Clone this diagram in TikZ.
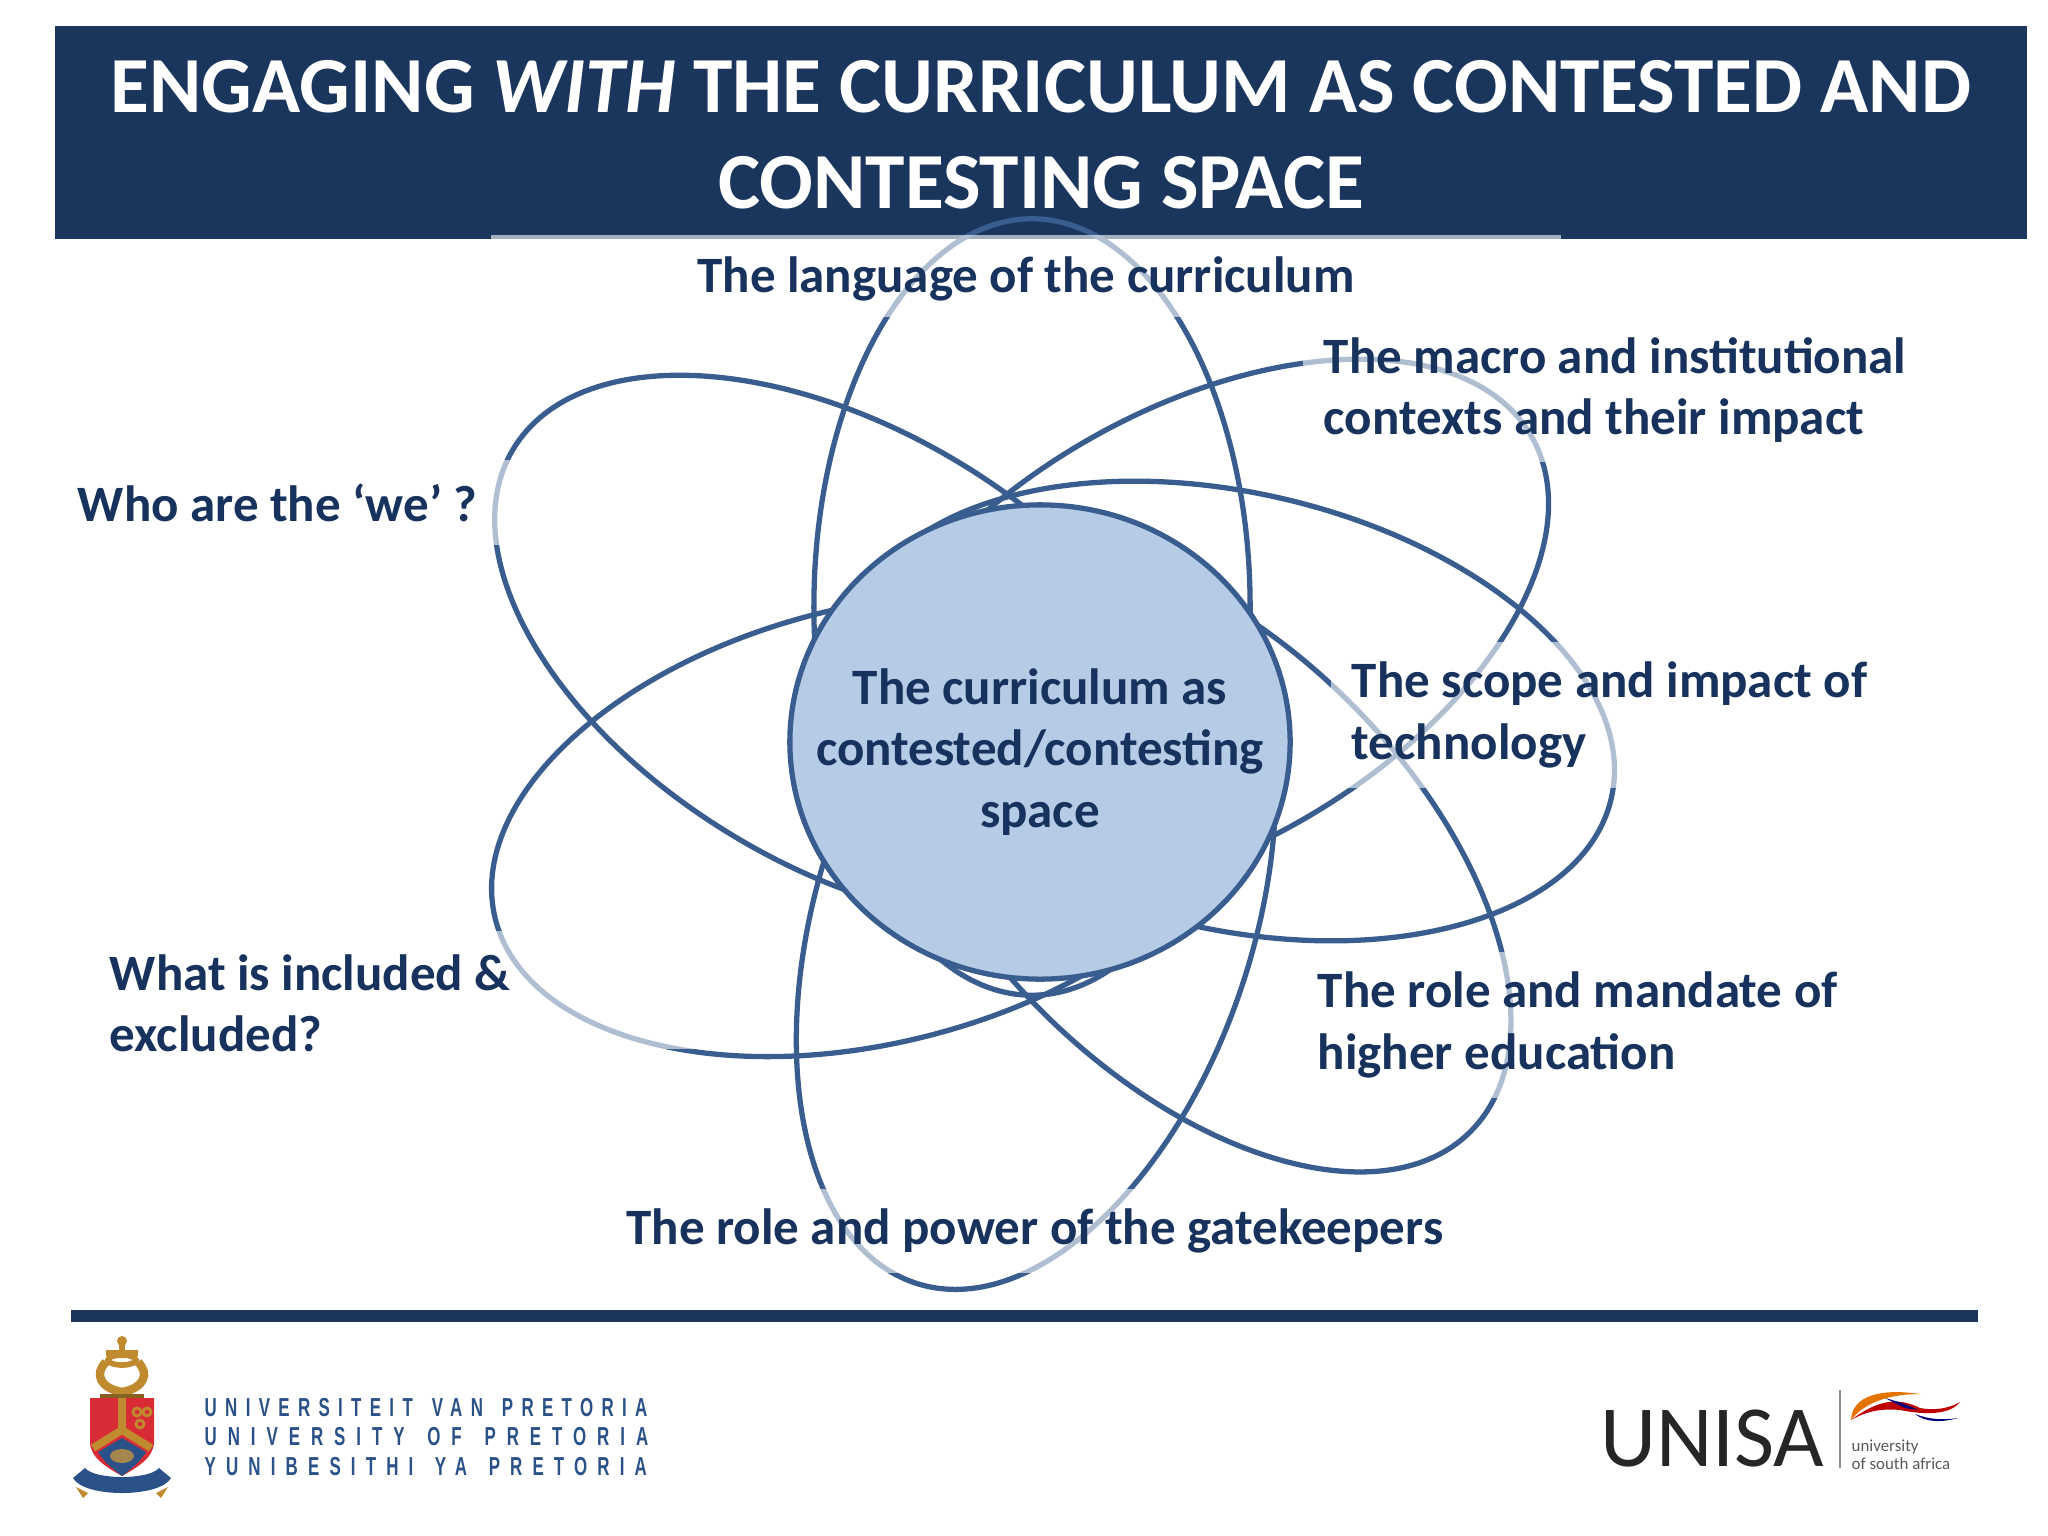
\documentclass[tikz,border=0pt]{standalone}
\usepackage{fontspec}
\setmainfont{Carlito}
\newfontfamily\upfont[FakeStretch=0.65,LetterSpace=32,WordSpace=1.46]{Liberation Sans}
\usetikzlibrary{shapes.geometric,positioning}

\definecolor{navy}{HTML}{1A365D}
\definecolor{inknavy}{HTML}{17325C}
\definecolor{petalblue}{HTML}{3A5D8F}
\definecolor{hubblue}{HTML}{B5CBE6}
\definecolor{upblue}{HTML}{2B5288}
\definecolor{upred}{HTML}{D92B35}
\definecolor{upgold}{HTML}{C08A2E}

\tikzset{
  petal/.style={draw=petalblue, line width=1.5pt, ellipse, inner sep=0pt, minimum width=7.76cm, minimum height=4.36cm},
  patch/.style={fill=white, fill opacity=0.6, text opacity=1, text=inknavy, inner sep=0pt, align=flush left,
    font=\fontsize{14.5}{17.45}\selectfont\bfseries},
  uptext/.style={text=upblue, inner sep=0pt, anchor=west, font=\upfont\fontsize{7.4}{8}\selectfont\bfseries}
}

\begin{document}
\begin{tikzpicture}[x=0.01cm, y=-0.01cm]
\useasboundingbox (0,0) rectangle (2048,1536);

% title band
\node[fill=navy, inner sep=0pt, minimum width=19.7cm, minimum height=2.13cm] (band) at (1041,132.5) {};
\node[text=white, inner sep=0pt, align=center, font=\fontsize{22.6}{27.2}\selectfont\bfseries] (title) at (1041,135)
  {ENGAGING \textit{WITH} THE CURRICULUM AS CONTESTED AND\\CONTESTING SPACE};

% the petals
\node[petal] (lang) at (1032,607) [rotate=90] {};
\node[petal] (gate) at (1036,914) [rotate=72] {};
\node[petal] (who) at (846,649) [rotate=-31] {};
\node[petal] (incl) at (872,825) [rotate=14] {};
\node[petal] (macro) at (1195,630) [rotate=30] {};
\node[petal] (tech) at (1233,711) [rotate=-13] {};
\node[petal] (role) at (1196,857) [rotate=-45] {};

% centre
\node[draw=petalblue, fill=hubblue, line width=1.5pt, ellipse, inner sep=0pt, minimum width=5cm, minimum height=4.74cm] (hub) at (1040,742) {};
\node[text=inknavy, align=center, inner sep=0pt, font=\fontsize{14.5}{17.45}\selectfont\bfseries] (hubtxt) at (1040,752)
  {The curriculum as\\contested/contesting\\space};

% labels, each on its half white patch
\node[patch, minimum width=10.69cm, minimum height=0.82cm, align=center, text height=12pt] (langtxt) at (1026,276) {The language of the curriculum};
\node[patch, minimum width=6.42cm, minimum height=1.44cm, text width=6cm] (macrotxt) at (1624,390) {The macro and institutional\\contexts and their impact};
\node[patch, minimum width=4.47cm, minimum height=0.85cm, text width=4.2cm] (whotxt) at (288,502.5) {Who are the ‘we’ ?};
\node[patch, minimum width=5.82cm, minimum height=1.46cm, text width=5.4cm] (techtxt) at (1622,715) {The scope and impact of\\technology};
\node[patch, minimum width=6.39cm, minimum height=1.18cm, text width=6.01cm, text depth=10pt] (incltxt) at (410.5,990) {What is included \&\\excluded?};
\node[patch, minimum width=5.76cm, minimum height=1.45cm, text width=5.4cm] (roletxt) at (1588,1025) {The role and mandate of\\higher education};
\node[patch, minimum width=8.56cm, minimum height=0.83cm, align=center] (gatetxt) at (1035,1231) {The role and power of the gatekeepers};

% foot rule
\node[fill=navy, inner sep=0pt, minimum width=19.05cm, minimum height=0.12cm] (footrule) at (1024.5,1316) {};

% left crest
\fill[upgold] (122,1341) circle (5);
\draw[upgold, line width=1.6pt] (122,1345) -- (122,1358) (106,1353) -- (138,1353) (122,1360) ellipse (14 and 5);
\draw[upgold, line width=2.4pt] (106,1362) .. controls (94,1374) and (100,1388) .. (122,1392) .. controls (144,1388) and (150,1374) .. (138,1362);
\fill[upgold!70!black] (100,1394) rectangle (144,1399);
\fill[upred] (90,1398) -- (154,1398) -- (154,1442) .. controls (154,1458) and (136,1468) .. (122,1476) .. controls (108,1468) and (90,1458) .. (90,1442) -- cycle;
\fill[upblue] (98,1452) -- (122,1438) -- (146,1452) .. controls (140,1462) and (132,1468) .. (122,1476) .. controls (112,1468) and (104,1462) .. (98,1452) -- cycle;
\fill[upgold!60!gray] (122,1456) ellipse (12 and 7);
\draw[upgold, line width=2.2pt] (122,1398) -- (122,1430) (93,1448) -- (122,1430) -- (151,1448);
\draw[upgold, line width=0.8pt] (137,1412) circle (4) (147,1412) circle (4) (140,1424) circle (4);
\fill[upblue] (73,1478) -- (85,1468) .. controls (95,1480) and (149,1480) .. (159,1468) -- (171,1478) .. controls (160,1498) and (84,1498) .. (73,1478) -- cycle;
\fill[upgold] (76,1487) -- (88,1493) -- (83,1498) -- cycle (168,1487) -- (156,1493) -- (161,1498) -- cycle;

\node[uptext] (upafr) at (204,1408) {UNIVERSITEIT VAN PRETORIA};
\node[uptext] (upeng) at (204,1437) {\addfontfeature{LetterSpace=42}UNIVERSITY OF PRETORIA};
\node[uptext] (upsot) at (204,1467) {\addfontfeature{LetterSpace=39}YUNIBESITHI YA PRETORIA};

% right logo
\node[inner sep=0pt, anchor=east, text=black!85, font=\fontsize{24.8}{28}\selectfont] (unisa) at (1825,1439) {UNISA};
\node[inner sep=0pt, minimum width=0.012cm, minimum height=0.78cm, fill=black!45] (unibar) at (1840,1429) {};
\fill[orange!90!black] (1851,1420) .. controls (1852,1396) and (1880,1388) .. (1920,1394) .. controls (1890,1394) and (1865,1402) .. cycle;
\fill[red!75!black] (1851,1420) .. controls (1880,1398) and (1900,1398) .. (1920,1408) .. controls (1935,1411) and (1950,1408) .. (1960,1402) .. controls (1950,1415) and (1925,1415) .. (1900,1410) .. controls (1880,1408) and (1865,1412) .. cycle;
\fill[blue!50!black] (1885,1398) .. controls (1900,1402) and (1910,1406) .. (1918,1410) -- (1905,1408) -- cycle (1915,1414) .. controls (1930,1420) and (1945,1420) .. (1958,1418) .. controls (1940,1423) and (1925,1422) .. cycle;
\node[inner sep=0pt, anchor=west, text=black!65, align=left, font=\fontsize{4.8}{5}\selectfont] (unisub) at (1851,1455) {university\\of south africa};
\end{tikzpicture}
\end{document}
